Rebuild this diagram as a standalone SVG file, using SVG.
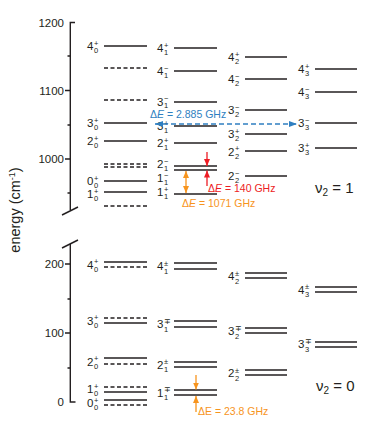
<svg xmlns="http://www.w3.org/2000/svg" width="373" height="427" viewBox="0 0 373 427">
<style>
text{font-family:"Liberation Sans",Arial,sans-serif;fill:#231f20}
.ax{stroke:#231f20;stroke-width:1.4;fill:none}
.tl{font-size:11.5px;text-anchor:end}
.s{stroke:#231f20;stroke-width:1.7}
.d{stroke:#231f20;stroke-width:1.4;stroke-dasharray:4 2.5}
.m{font-size:11.5px;text-anchor:end}
.p{font-size:7.5px}
.dl{font-size:10.5px}
.v{font-size:15px}
</style>
<defs>
<marker id="hr" markerUnits="userSpaceOnUse" markerWidth="7" markerHeight="6" refX="7" refY="3" orient="auto-start-reverse"><path d="M0,0L7,3L0,6z" fill="#ed1c24"/></marker>
<marker id="ho" markerUnits="userSpaceOnUse" markerWidth="7" markerHeight="6" refX="7" refY="3" orient="auto-start-reverse"><path d="M0,0L7,3L0,6z" fill="#f7941d"/></marker>
<marker id="hb" markerUnits="userSpaceOnUse" markerWidth="8" markerHeight="6" refX="8" refY="3" orient="auto-start-reverse"><path d="M0,0L8,3L0,6z" fill="#2f7fc1"/></marker>
</defs>

<g id="axis">
<path class="ax" d="M75,22.5H70.3V210M70.3,244V402H75.5"/>
<path class="ax" d="M62,215L78,207M62,248L78,240"/>
<path class="ax" d="M65,90.5H70.3M65,159H70.3M67.5,56H70.3M67.5,125H70.3M67.5,193H70.3M65,264H70.3M65,333H70.3M67.5,299H70.3M67.5,368H70.3"/>
<text class="tl" x="64" y="26.5">1200</text>
<text class="tl" x="64" y="94.5">1100</text>
<text class="tl" x="64" y="163">1000</text>
<text class="tl" x="64" y="268">200</text>
<text class="tl" x="64" y="337">100</text>
<text class="tl" x="64" y="406">0</text>
<text font-size="14.5" text-anchor="middle" transform="translate(20,210) rotate(-90)">energy (cm<tspan font-size="9" dy="-5">-1</tspan><tspan dy="5">)</tspan></text>
</g>

<!-- upper, K=0 column -->
<g id="u-4-0p"><line class="s" x1="104" y1="46" x2="147" y2="46"/><text class="m" x="93.5" y="50">4</text><text class="p" x="94" y="45.5">+</text><text class="p" x="94" y="53">0</text></g>
<g id="u-d-1"><line class="d" x1="104" y1="68" x2="147" y2="68"/></g>
<g id="u-d-2"><line class="d" x1="104" y1="100" x2="147" y2="100"/></g>
<g id="u-3-0p"><line class="s" x1="104" y1="123" x2="147" y2="123"/><text class="m" x="93.5" y="127">3</text><text class="p" x="94" y="122.5">+</text><text class="p" x="94" y="130">0</text></g>
<g id="u-2-0p"><line class="s" x1="104" y1="141" x2="147" y2="141"/><text class="m" x="93.5" y="145">2</text><text class="p" x="94" y="140.5">+</text><text class="p" x="94" y="148">0</text></g>
<g id="u-d-3"><line class="d" x1="104" y1="164" x2="147" y2="164"/><line class="d" x1="104" y1="167" x2="147" y2="167"/></g>
<g id="u-0-0p"><line class="s" x1="104" y1="181" x2="147" y2="181"/><text class="m" x="93.5" y="185">0</text><text class="p" x="94" y="180.5">+</text><text class="p" x="94" y="187.5">0</text></g>
<g id="u-1-0p"><line class="s" x1="104" y1="192" x2="147" y2="192"/><text class="m" x="93.5" y="197.5">1</text><text class="p" x="94" y="193.5">+</text><text class="p" x="94" y="200.5">0</text></g>
<g id="u-d-4"><line class="d" x1="104" y1="206" x2="147" y2="206"/></g>

<!-- upper, K=1 column -->
<g id="u-4-1p"><line class="s" x1="174" y1="48" x2="217" y2="48"/><text class="m" x="163.5" y="52">4</text><text class="p" x="164" y="47.5">+</text><text class="p" x="164" y="55">1</text></g>
<g id="u-4-1m"><line class="s" x1="174" y1="71" x2="217" y2="71"/><text class="m" x="163.5" y="75">4</text><text class="p" x="164" y="70.5">−</text><text class="p" x="164" y="78">1</text></g>
<g id="u-3-1m"><line class="s" x1="174" y1="102" x2="217" y2="102"/><text class="m" x="163.5" y="105.5">3</text><text class="p" x="164" y="101">−</text><text class="p" x="164" y="108">1</text></g>
<g id="u-3-1p"><line class="s" x1="174" y1="126" x2="217" y2="126"/><text class="m" x="163.5" y="130">3</text><text class="p" x="164" y="125.5">+</text><text class="p" x="164" y="133">1</text></g>
<g id="u-2-1p"><line class="s" x1="174" y1="143" x2="217" y2="143"/><text class="m" x="163.5" y="147">2</text><text class="p" x="164" y="142.5">+</text><text class="p" x="164" y="150">1</text></g>
<g id="u-2-1m"><line class="s" x1="174" y1="166" x2="217" y2="166"/><text class="m" x="163.5" y="168">2</text><text class="p" x="164" y="163.5">−</text><text class="p" x="164" y="171">1</text></g>
<g id="u-1-1m"><line class="s" x1="174" y1="170" x2="217" y2="170"/><text class="m" x="163.5" y="182">1</text><text class="p" x="164" y="177.5">−</text><text class="p" x="164" y="185">1</text></g>
<g id="u-1-1p"><line class="s" x1="174" y1="194" x2="217" y2="194"/><text class="m" x="163.5" y="196">1</text><text class="p" x="164" y="191.5">+</text><text class="p" x="164" y="199">1</text></g>

<!-- upper, K=2 column -->
<g id="u-4-2p"><line class="s" x1="245" y1="57" x2="287" y2="57"/><text class="m" x="234.5" y="61">4</text><text class="p" x="235" y="56.5">+</text><text class="p" x="235" y="64">2</text></g>
<g id="u-4-2m"><line class="s" x1="245" y1="79" x2="287" y2="79"/><text class="m" x="234.5" y="83">4</text><text class="p" x="235" y="78.5">−</text><text class="p" x="235" y="86">2</text></g>
<g id="u-3-2m"><line class="s" x1="245" y1="110" x2="287" y2="110"/><text class="m" x="234.5" y="114">3</text><text class="p" x="235" y="109.5">−</text><text class="p" x="235" y="117">2</text></g>
<g id="u-3-2p"><line class="s" x1="245" y1="134" x2="287" y2="134"/><text class="m" x="234.5" y="138">3</text><text class="p" x="235" y="133.5">+</text><text class="p" x="235" y="141">2</text></g>
<g id="u-2-2p"><line class="s" x1="245" y1="151" x2="287" y2="151"/><text class="m" x="234.5" y="155.5">2</text><text class="p" x="235" y="151">+</text><text class="p" x="235" y="158.5">2</text></g>
<g id="u-2-2m"><line class="s" x1="245" y1="176" x2="287" y2="176"/><text class="m" x="234.5" y="180">2</text><text class="p" x="235" y="175.5">−</text><text class="p" x="235" y="183">2</text></g>

<!-- upper, K=3 column -->
<g id="u-4-3p"><line class="s" x1="315" y1="69" x2="357" y2="69"/><text class="m" x="304.5" y="73">4</text><text class="p" x="305" y="68.5">+</text><text class="p" x="305" y="76">3</text></g>
<g id="u-4-3m"><line class="s" x1="315" y1="92" x2="357" y2="92"/><text class="m" x="304.5" y="96">4</text><text class="p" x="305" y="91.5">−</text><text class="p" x="305" y="99">3</text></g>
<g id="u-3-3m"><line class="s" x1="315" y1="123" x2="357" y2="123"/><text class="m" x="304.5" y="127">3</text><text class="p" x="305" y="122.5">−</text><text class="p" x="305" y="130">3</text></g>
<g id="u-3-3p"><line class="s" x1="315" y1="148" x2="357" y2="148"/><text class="m" x="304.5" y="152">3</text><text class="p" x="305" y="147.5">+</text><text class="p" x="305" y="155">3</text></g>

<!-- lower, K=0 column -->
<g id="l-4-0"><line class="s" x1="104" y1="262" x2="147" y2="262"/><line class="d" x1="104" y1="267" x2="147" y2="267"/><text class="m" x="93.5" y="268.5">4</text><text class="p" x="94" y="264">+</text><text class="p" x="94" y="271.5">0</text></g>
<g id="l-3-0"><line class="d" x1="104" y1="318" x2="147" y2="318"/><line class="s" x1="104" y1="323" x2="147" y2="323"/><text class="m" x="93.5" y="324.5">3</text><text class="p" x="94" y="320">+</text><text class="p" x="94" y="327.5">0</text></g>
<g id="l-2-0"><line class="s" x1="104" y1="358" x2="147" y2="358"/><line class="d" x1="104" y1="364" x2="147" y2="364"/><text class="m" x="93.5" y="365.5">2</text><text class="p" x="94" y="361">+</text><text class="p" x="94" y="368.5">0</text></g>
<g id="l-1-0"><line class="d" x1="104" y1="387" x2="147" y2="387"/><line class="s" x1="104" y1="392" x2="147" y2="392"/><text class="m" x="93.5" y="393">1</text><text class="p" x="94" y="388.5">+</text><text class="p" x="94" y="395.5">0</text></g>
<g id="l-0-0"><line class="s" x1="104" y1="400" x2="147" y2="400"/><line class="d" x1="104" y1="405" x2="147" y2="405"/><text class="m" x="93.5" y="407">0</text><text class="p" x="94" y="403">+</text><text class="p" x="94" y="410">0</text></g>

<!-- lower, K=1 column -->
<g id="l-4-1"><line class="s" x1="174" y1="263" x2="217" y2="263"/><line class="s" x1="174" y1="269" x2="217" y2="269"/><text class="m" x="163.5" y="270">4</text><text class="p" x="164" y="265.5">±</text><text class="p" x="164" y="273.5">1</text></g>
<g id="l-3-1"><line class="s" x1="174" y1="321" x2="217" y2="321"/><line class="s" x1="174" y1="327" x2="217" y2="327"/><text class="m" x="163.5" y="328">3</text><text class="p" x="164" y="323.5">∓</text><text class="p" x="164" y="331.5">1</text></g>
<g id="l-2-1"><line class="s" x1="174" y1="362" x2="217" y2="362"/><line class="s" x1="174" y1="367" x2="217" y2="367"/><text class="m" x="163.5" y="368.5">2</text><text class="p" x="164" y="364">±</text><text class="p" x="164" y="372">1</text></g>
<g id="l-1-1"><line class="s" x1="174" y1="390" x2="217" y2="390"/><line class="s" x1="174" y1="395" x2="217" y2="395"/><text class="m" x="163.5" y="396.5">1</text><text class="p" x="164" y="392">∓</text><text class="p" x="164" y="400">1</text></g>

<!-- lower, K=2 column -->
<g id="l-4-2"><line class="s" x1="245" y1="273" x2="287" y2="273"/><line class="s" x1="245" y1="278" x2="287" y2="278"/><text class="m" x="234.5" y="280">4</text><text class="p" x="235" y="275.5">±</text><text class="p" x="235" y="283.5">2</text></g>
<g id="l-3-2"><line class="s" x1="245" y1="328" x2="287" y2="328"/><line class="s" x1="245" y1="333" x2="287" y2="333"/><text class="m" x="234.5" y="335">3</text><text class="p" x="235" y="330.5">∓</text><text class="p" x="235" y="338.5">2</text></g>
<g id="l-2-2"><line class="s" x1="245" y1="370" x2="287" y2="370"/><line class="s" x1="245" y1="375" x2="287" y2="375"/><text class="m" x="234.5" y="377">2</text><text class="p" x="235" y="372.5">±</text><text class="p" x="235" y="380.5">2</text></g>

<!-- lower, K=3 column -->
<g id="l-4-3"><line class="s" x1="315" y1="287" x2="357" y2="287"/><line class="s" x1="315" y1="292" x2="357" y2="292"/><text class="m" x="304.5" y="293.5">4</text><text class="p" x="305" y="289">±</text><text class="p" x="305" y="297">3</text></g>
<g id="l-3-3"><line class="s" x1="315" y1="342" x2="357" y2="342"/><line class="s" x1="315" y1="347" x2="357" y2="347"/><text class="m" x="304.5" y="348">3</text><text class="p" x="305" y="343.5">∓</text><text class="p" x="305" y="351.5">3</text></g>

<g id="v2-1"><text class="v" x="315" y="193">ν<tspan font-size="10" dy="3">2</tspan><tspan dy="-3"> = 1</tspan></text></g>
<g id="v2-0"><text class="v" x="316" y="391">ν<tspan font-size="10" dy="3">2</tspan><tspan dy="-3"> = 0</tspan></text></g>

<g id="connectors">
<line x1="155" y1="124" x2="297" y2="124" stroke="#2f7fc1" stroke-width="1.4" stroke-dasharray="5 3" marker-start="url(#hb)" marker-end="url(#hb)"/>
<text class="dl" x="150" y="118" style="fill:#2f7fc1">Δ<tspan font-style="italic">E</tspan> = 2.885 GHz</text>
<line x1="207" y1="152" x2="207" y2="166" stroke="#ed1c24" stroke-width="1.3" marker-end="url(#hr)"/>
<line x1="207" y1="186" x2="207" y2="170.5" stroke="#ed1c24" stroke-width="1.3" marker-end="url(#hr)"/>
<text class="dl" x="208" y="192" style="fill:#ed1c24">Δ<tspan font-style="italic">E</tspan> = 140 GHz</text>
<line x1="186" y1="171" x2="186" y2="193" stroke="#f7941d" stroke-width="1.3" marker-start="url(#ho)" marker-end="url(#ho)"/>
<text class="dl" x="182" y="207" style="fill:#f7941d">Δ<tspan font-style="italic">E</tspan> = 1071 GHz</text>
<line x1="196" y1="375" x2="196" y2="389.5" stroke="#f7941d" stroke-width="1.3" marker-end="url(#ho)"/>
<line x1="196" y1="412" x2="196" y2="396" stroke="#f7941d" stroke-width="1.3" marker-end="url(#ho)"/>
<text class="dl" x="198" y="415" style="fill:#f7941d">ΔE = 23.8 GHz</text>
</g>
</svg>
